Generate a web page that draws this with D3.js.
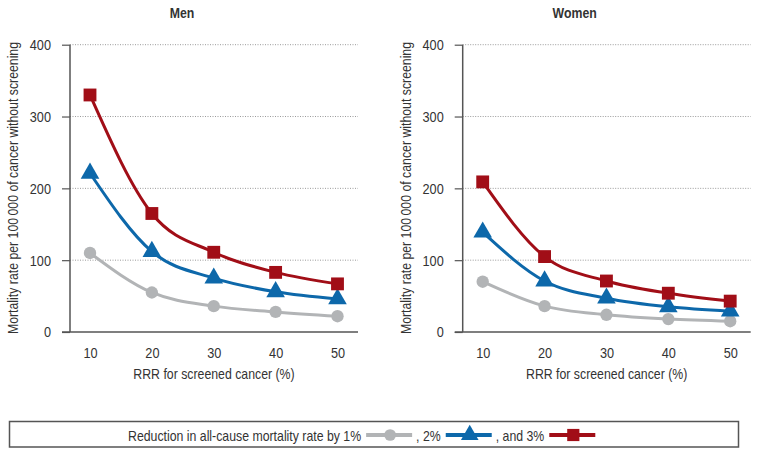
<!DOCTYPE html>
<html>
<head>
<meta charset="utf-8">
<script src="https://cdn.jsdelivr.net/npm/d3@7"></script>
<style>
  body { margin: 0; background: #fff; }
  svg text { font-family: "Liberation Sans Narrow", "Arial Narrow", "Liberation Sans", Arial, sans-serif; fill: #333; }
</style>
</head>
<body>
<svg width="757" height="457"></svg>
<script>
// data
let rrr = [10, 20, 30, 40, 50];
let yTicks = [0, 100, 200, 300, 400];

let men1 = [110, 55, 36, 28, 22];
let men2 = [221, 112, 75, 56, 46];
let men3 = [330, 165, 111, 83, 67];

let women1 = [70, 36, 24, 18, 15];
let women2 = [139, 71, 47, 35, 29];
let women3 = [209, 105, 71, 54, 43];

let seriesNames = ['1%', '2%', '3%'];
let colors = ['#b2b4b6', '#0d68aa', '#a10e17'];
let shapes = [d3.symbolCircle, d3.symbolTriangle, d3.symbolSquare];
let markerSizes = [120, 150, 165];

let svg = d3.select('svg');

let yScale = d3.scaleLinear().domain([0, 400]).range([332, 44.7]);

// no narrow font installed, so squeeze the regular one
function narrow(sel) {
    sel.each(function() {
        let w = this.getComputedTextLength();
        d3.select(this).attr('textLength', w * 0.82).attr('lengthAdjust', 'spacingAndGlyphs');
    });
}

function drawPanel(left, title, data) {
    let g = svg.append('g').attr('transform', 'translate(' + left + ',0)');
    let plotW = 288;

    let xScale = d3.scaleLinear().domain([10, 50]).range([20, 267.5]);

    // dotted gridlines
    g.selectAll('.grid').data(yTicks.slice(1)).enter().append('line')
        .attr('x1', 0).attr('x2', plotW)
        .attr('y1', d => yScale(d)).attr('y2', d => yScale(d))
        .attr('stroke', '#9a9a9a')
        .attr('stroke-width', 1)
        .attr('stroke-dasharray', '1,1.5');

    // y axis
    let yAxis = d3.axisLeft(yScale).tickValues(yTicks).tickSize(8).tickPadding(11);
    let ya = g.append('g').call(yAxis);
    ya.select('.domain').attr('stroke', '#555').attr('stroke-width', 1.5).attr('d', 'M0,' + yScale(400) + 'V' + yScale(0));
    ya.selectAll('.tick line').attr('stroke', '#555').attr('stroke-width', 1.2);
    ya.selectAll('text').attr('font-size', '15.5px').attr('fill', '#333').call(narrow);

    // x axis
    let xAxis = d3.axisBottom(xScale).tickValues(rrr).tickSize(0).tickPadding(15);
    let xa = g.append('g').attr('transform', 'translate(0,' + yScale(0) + ')').call(xAxis);
    xa.select('.domain').attr('stroke', '#555').attr('stroke-width', 1.5).attr('d', 'M-8,0H' + plotW);
    xa.selectAll('text').attr('font-size', '15.5px').attr('fill', '#333').call(narrow);

    // lines
    let line = d3.line()
        .x((d, i) => xScale(rrr[i]))
        .y(d => yScale(d))
        .curve(d3.curveMonotoneX);

    data.forEach((vals, s) => {
        g.append('path')
            .attr('d', line(vals))
            .attr('fill', 'none')
            .attr('stroke', colors[s])
            .attr('stroke-width', 3);
    });

    data.forEach((vals, s) => {
        g.selectAll('.m' + s).data(vals).enter().append('path')
            .attr('class', 'm' + s)
            .attr('transform', (d, i) => 'translate(' + xScale(rrr[i]) + ',' + yScale(d) + ')')
            .attr('d', d3.symbol().type(shapes[s]).size(markerSizes[s]))
            .attr('fill', colors[s]);
    });

    // titles
    g.append('text')
        .attr('x', 112).attr('y', 18)
        .attr('text-anchor', 'middle')
        .attr('font-size', '15px')
        .attr('font-weight', 'bold')
        .attr('fill', '#222')
        .text(title)
        .call(narrow);

    g.append('text')
        .attr('x', plotW / 2).attr('y', 379)
        .attr('text-anchor', 'middle')
        .attr('font-size', '15px')
        .text('RRR for screened cancer (%)')
        .call(narrow);

    g.append('text')
        .attr('transform', 'translate(-57,188) rotate(-90) scale(0.82,1)')
        .attr('text-anchor', 'middle')
        .attr('dominant-baseline', 'central')
        .attr('font-size', '15px')
        .text('Mortality rate per 100\u2009000 of cancer without screening');
}

drawPanel(70, 'Men', [men1, men2, men3]);
drawPanel(462.7, 'Women', [women1, women2, women3]);

// legend
let leg = svg.append('g');
leg.append('rect')
    .attr('x', 9.5).attr('y', 421.5)
    .attr('width', 729).attr('height', 25.5)
    .attr('fill', 'none')
    .attr('stroke', '#555')
    .attr('stroke-width', 1.5);

let legY = 435;
let legLabels = ['Reduction in all-cause mortality rate by 1%', ', 2%', ', and 3%'];
let cx = 128;
legLabels.forEach((lab, s) => {
    let t = leg.append('text')
        .attr('x', cx).attr('y', legY)
        .attr('dominant-baseline', 'central')
        .attr('font-size', '15px')
        .text(lab)
        .call(narrow);
    cx += +t.attr('textLength') + 5;
    leg.append('line')
        .attr('x1', cx).attr('x2', cx + 46)
        .attr('y1', legY).attr('y2', legY)
        .attr('stroke', colors[s])
        .attr('stroke-width', 4);
    leg.append('path')
        .attr('transform', 'translate(' + (cx + 24) + ',' + legY + ')')
        .attr('d', d3.symbol().type(shapes[s]).size(markerSizes[s] * 0.9))
        .attr('fill', colors[s]);
    cx += 50;
});
</script>
</body>
</html>
